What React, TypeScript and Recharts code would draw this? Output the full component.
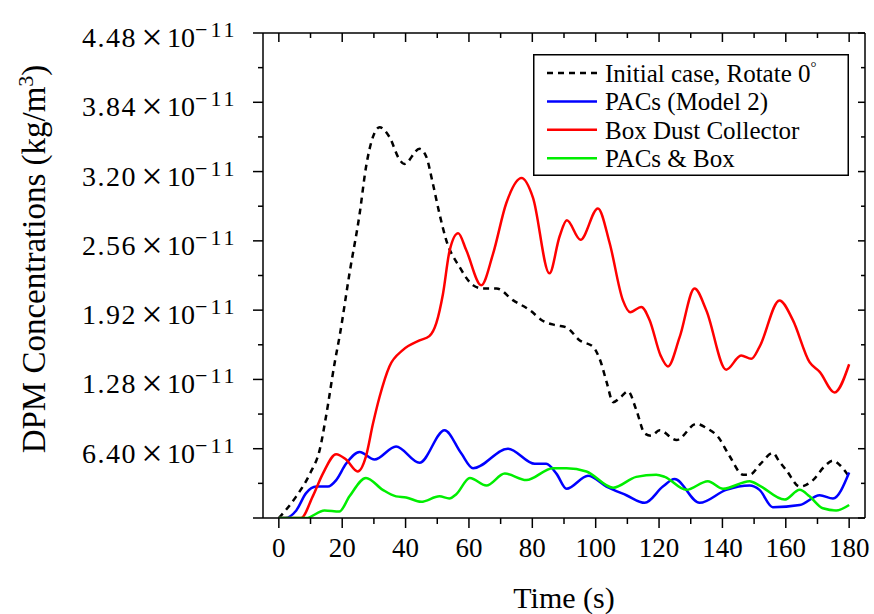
import React from "react";
import { Legend, Line, LineChart, XAxis, YAxis } from "recharts";

const FONT = "'Liberation Serif', 'Times New Roman', serif";

// time (s) and concentration (x 10^-11 kg/m^3)
const initialT = [0, 5.5, 10, 12.9, 14.9, 17.6, 19.3, 22.3, 25.5, 27.5, 29.7, 31.8, 34.9, 38.1, 39.6, 44.4, 46.5, 48.6, 50.7, 52.8, 57, 61.3, 64.4, 68.7, 74, 79.2, 83.4, 87.6, 90.8, 95, 99.2, 101.5, 103.5, 105.5, 108, 110.2, 112.8, 115.5, 117.5, 120.2, 125.5, 131.8, 135, 138.6, 142.3, 146.5, 148.6, 152, 155.9, 158, 160.2, 164.4, 168.6, 172, 174.9, 177, 180];
const initialV = [0, 0.2, 0.42, 0.63, 0.94, 1.43, 1.7, 2.26, 2.81, 3.24, 3.52, 3.61, 3.52, 3.31, 3.27, 3.41, 3.34, 3.09, 2.81, 2.57, 2.32, 2.15, 2.12, 2.12, 2.01, 1.92, 1.82, 1.78, 1.76, 1.64, 1.58, 1.45, 1.25, 1.07, 1.12, 1.17, 1.0, 0.78, 0.76, 0.81, 0.72, 0.87, 0.83, 0.75, 0.57, 0.4, 0.4, 0.5, 0.6, 0.52, 0.44, 0.29, 0.35, 0.47, 0.53, 0.49, 0.38];

const pacsT = [0, 2, 5.5, 8.6, 11.8, 15.5, 18.1, 21.2, 25.5, 30.2, 37, 44.4, 52.3, 57.5, 61.3, 72.3, 80.8, 84.4, 87.6, 90.8, 97.6, 103.4, 109.7, 115.5, 121.2, 124.9, 132.8, 141.2, 148.6, 151.7, 155.9, 164.4, 170.7, 174.9, 180];
const pacsV = [0, 0, 0.07, 0.23, 0.29, 0.29, 0.35, 0.5, 0.61, 0.54, 0.66, 0.51, 0.81, 0.6, 0.46, 0.64, 0.5, 0.5, 0.41, 0.27, 0.39, 0.29, 0.21, 0.14, 0.29, 0.36, 0.14, 0.26, 0.3, 0.26, 0.1, 0.12, 0.21, 0.18, 0.42];

const boxT = [0, 7, 10.7, 13.9, 18.1, 21.2, 24.9, 27.5, 29.7, 31.8, 34.9, 39.1, 44.4, 47.5, 49.7, 51.8, 53.9, 56.6, 59.2, 63.9, 67.6, 71.8, 76.6, 80.2, 85.4, 88.6, 90.9, 95.2, 100.7, 104.4, 108.6, 110.9, 114.4, 117, 120.5, 122.8, 126.5, 131.2, 134.9, 141.2, 145.9, 149.1, 151.7, 158, 162.2, 167.5, 170.7, 175.4, 180];
const boxV = [0, 0, 0.2, 0.41, 0.59, 0.54, 0.43, 0.57, 0.87, 1.12, 1.4, 1.55, 1.64, 1.68, 1.8, 2.07, 2.47, 2.63, 2.47, 2.15, 2.44, 2.91, 3.14, 2.96, 2.26, 2.6, 2.75, 2.57, 2.86, 2.54, 2.01, 1.9, 1.95, 1.83, 1.5, 1.4, 1.67, 2.12, 1.92, 1.37, 1.5, 1.47, 1.58, 2.01, 1.83, 1.44, 1.35, 1.16, 1.42];

const bothT = [0, 8.6, 14.4, 19.1, 22.3, 27.5, 32.8, 37, 40.2, 44.9, 50.7, 53.8, 56, 60.3, 65.5, 71.3, 78.1, 86.5, 90.8, 97.1, 105.5, 112.8, 119.1, 121.8, 128.6, 135.4, 140.2, 148.6, 151.7, 159.6, 164.4, 167.5, 171.7, 175.9, 180];
const bothV = [0, 0, 0.07, 0.06, 0.2, 0.37, 0.26, 0.2, 0.19, 0.15, 0.2, 0.18, 0.22, 0.37, 0.3, 0.41, 0.35, 0.46, 0.46, 0.43, 0.28, 0.38, 0.4, 0.38, 0.26, 0.34, 0.27, 0.34, 0.3, 0.17, 0.26, 0.2, 0.09, 0.07, 0.12];

const xTicks = [0, 10, 20, 30, 40, 50, 60, 70, 80, 90, 100, 110, 120, 130, 140, 150, 160, 170, 180];
const yTicks = [0, 0.32, 0.64, 0.96, 1.28, 1.6, 1.92, 2.24, 2.56, 2.88, 3.2, 3.52, 3.84, 4.16, 4.48];
// the figure labels the first tick 6.40 (sic)
const yLabels = ["", "", "6.40", "", "1.28", "", "1.92", "", "2.56", "", "3.20", "", "3.84", "", "4.48"];

const series = [
  { key: "initial", name: "Initial case, Rotate 0", sup: "°", color: "#000000", dash: "6 5", t: initialT, v: initialV },
  { key: "pacs", name: "PACs (Model 2)", sup: "", color: "#0000ff", dash: undefined, t: pacsT, v: pacsV },
  { key: "box", name: "Box Dust Collector", sup: "", color: "#ff0000", dash: undefined, t: boxT, v: boxV },
  { key: "both", name: "PACs & Box", sup: "", color: "#00ee00", dash: undefined, t: bothT, v: bothV },
];

function LeftTick(props: any) {
  const { x, y, payload } = props;
  const i = yTicks.indexOf(payload.value);
  const label = yLabels[i];
  const major = i % 2 === 0;
  return (
    <g>
      <line x1={x - (major ? 10 : 5)} x2={x} y1={y} y2={y} stroke="#000" strokeWidth={1.5} />
      {label ? (
        <g fontFamily={FONT} fill="#000">
          <text x={x - 126} y={y + 14} fontSize={28} letterSpacing={1.5} textAnchor="end">{label}</text>
          <text x={x - 111} y={y + 17} fontSize={38} textAnchor="middle">×</text>
          <text x={x - 96} y={y + 14} fontSize={28}>10</text>
          <text x={x - 68} y={y + 4} fontSize={22} letterSpacing={3}>−11</text>
        </g>
      ) : null}
    </g>
  );
}

function RightTick(props: any) {
  const { x, y, payload } = props;
  const major = yTicks.indexOf(payload.value) % 2 === 0;
  return <line x1={x - (major ? 7 : 4)} x2={x} y1={y} y2={y} stroke="#000" strokeWidth={1.5} />;
}

function BottomTick(props: any) {
  const { x, y, payload } = props;
  const major = xTicks.indexOf(payload.value) % 2 === 0;
  return (
    <g>
      <line x1={x} x2={x} y1={y} y2={y + (major ? 10 : 6)} stroke="#000" strokeWidth={1.5} />
      {major ? (
        <text x={x} y={y + 39} fontSize={27} fontFamily={FONT} textAnchor="middle" fill="#000">
          {payload.value}
        </text>
      ) : null}
    </g>
  );
}

function TopTick(props: any) {
  const { x, y, payload } = props;
  const major = xTicks.indexOf(payload.value) % 2 === 0;
  return <line x1={x} x2={x} y1={y} y2={y + (major ? 9 : 5)} stroke="#000" strokeWidth={1.5} />;
}

function YTitle() {
  return (
    <text x={45} y={259} transform="rotate(-90, 45, 259)" fontSize={33} fontFamily={FONT} textAnchor="middle" fill="#000">
      DPM Concentrations (kg/m
      <tspan dy={-12} fontSize={22}>3</tspan>
      <tspan dy={12}>)</tspan>
    </text>
  );
}

function XTitle() {
  return (
    <text x={564} y={608} fontSize={30} fontFamily={FONT} textAnchor="middle" fill="#000">
      Time (s)
    </text>
  );
}

function LegendBox() {
  return (
    <svg width={316} height={122} style={{ display: "block" }}>
      <rect x={0.75} y={0.75} width={314.5} height={120.5} fill="#fff" stroke="#000" strokeWidth={1.5} />
      {series.map((s, i) => {
        const cy = 19 + i * 28.4;
        return (
          <g key={s.key}>
            <line x1={14} x2={64} y1={cy} y2={cy} stroke={s.color} strokeWidth={2.5} strokeDasharray={s.dash} />
            <text x={72} y={cy + 9} fontSize={25} fontFamily={FONT} fill="#000">
              {s.name}
              {s.sup ? <tspan dy={-10} fontSize={15}>{s.sup}</tspan> : null}
            </text>
          </g>
        );
      })}
    </svg>
  );
}

export default function App() {
  return (
    <div style={{ position: "absolute", left: 0, top: 0, width: 874, height: 614, background: "#fff" }}>
      <LineChart width={874} height={614} margin={{ top: 32, right: 8, bottom: 0, left: 0 }}>
        <XAxis
          xAxisId="b"
          type="number"
          dataKey="t"
          domain={[-5, 185]}
          ticks={xTicks}
          interval={0}
          height={96}
          tickSize={0}
          tickMargin={0}
          tickLine={false}
          tick={<BottomTick />}
          axisLine={{ stroke: "#000", strokeWidth: 1.5 }}
          allowDataOverflow
          label={<XTitle />}
        />
        <XAxis
          xAxisId="top"
          orientation="top"
          type="number"
          dataKey="t"
          domain={[-5, 185]}
          ticks={xTicks}
          interval={0}
          height={1}
          tickSize={0}
          tickMargin={0}
          tickLine={false}
          tick={<TopTick />}
          axisLine={{ stroke: "#000", strokeWidth: 1.5 }}
          allowDataOverflow
        />
        <YAxis
          yAxisId="l"
          type="number"
          domain={[0, 4.48]}
          ticks={yTicks}
          interval={0}
          width={263}
          tickSize={0}
          tickMargin={0}
          tickLine={false}
          tick={<LeftTick />}
          axisLine={{ stroke: "#000", strokeWidth: 1.5 }}
          allowDataOverflow
          label={<YTitle />}
        />
        <YAxis
          yAxisId="r"
          orientation="right"
          type="number"
          domain={[0, 4.48]}
          ticks={yTicks}
          interval={0}
          width={1}
          tickSize={0}
          tickMargin={0}
          tickLine={false}
          tick={<RightTick />}
          axisLine={{ stroke: "#000", strokeWidth: 1.5 }}
          allowDataOverflow
        />
        <Legend
          layout="vertical"
          align="center"
          verticalAlign="middle"
          content={() => <LegendBox />}
          wrapperStyle={{ position: "absolute", left: 533, top: 54, width: 316, height: 122 }}
        />
        {series.map((s) => (
          <Line
            key={s.key}
            xAxisId="b"
            yAxisId="l"
            name={s.name}
            data={s.t.map((t, i) => ({ t, v: s.v[i] }))}
            dataKey="v"
            type="monotone"
            stroke={s.color}
            strokeWidth={2.5}
            strokeDasharray={s.dash}
            dot={false}
            activeDot={false}
            isAnimationActive={false}
          />
        ))}
      </LineChart>
    </div>
  );
}
